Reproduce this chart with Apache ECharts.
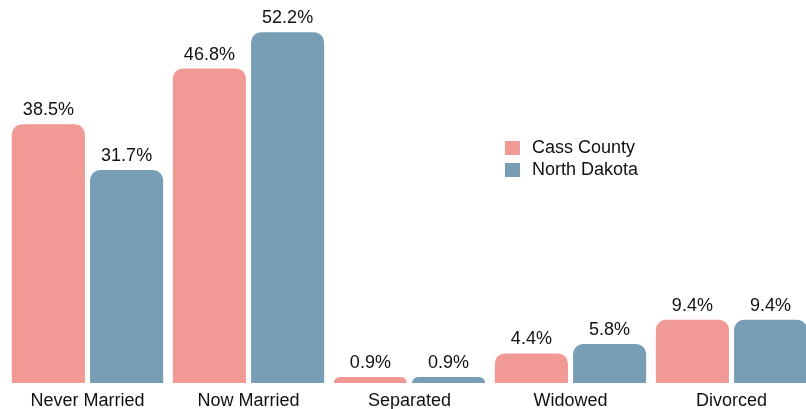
<!DOCTYPE html>
<html>
<head>
<meta charset="utf-8">
<script src="https://cdn.jsdelivr.net/npm/echarts@6/dist/echarts.min.js"></script>
<style>
  html, body { margin: 0; padding: 0; background: #fff; }
  #main { width: 806px; height: 409px; }
</style>
</head>
<body>
<div id="main"></div>
<script>
var categories = ['Never Married', 'Now Married', 'Separated', 'Widowed', 'Divorced'];
var cassCounty = [38.5, 46.8, 0.9, 4.4, 9.4];
var northDakota = [31.7, 52.2, 0.9, 5.8, 9.4];

var font = 'Liberation Sans, Arial, Helvetica, sans-serif';
var textColor = '#111';
var myChart = echarts.init(document.getElementById('main'));

function barSeries(name, color, data) {
  return {
    name: name,
    type: 'bar',
    barGap: '7%',
    barCategoryGap: '6%',
    itemStyle: {
      color: color,
      borderRadius: [10, 10, 0, 0]
    },
    label: {
      show: true,
      position: 'top',
      distance: 5,
      color: textColor,
      fontSize: 18,
      fontFamily: font,
      formatter: function (p) { return p.value.toFixed(1) + '%'; }
    },
    data: data
  };
}

var option = {
  backgroundColor: '#fff',
  animation: false,
  legend: {
    orient: 'vertical',
    left: 505,
    top: 139,
    padding: 0,
    itemGap: 4,
    itemWidth: 15,
    itemHeight: 14,
    icon: 'rect',
    textStyle: { color: textColor, fontSize: 18, fontFamily: font, padding: [0, 0, 0, 7] },
    data: ['Cass County', 'North Dakota']
  },
  grid: { left: 7, width: 805, top: 0, bottom: 26, containLabel: false, outerBoundsMode: 'none' },
  xAxis: {
    type: 'category',
    data: categories,
    axisLine: { show: false },
    axisTick: { show: false },
    axisLabel: { color: textColor, fontSize: 18, fontFamily: font, margin: 9, interval: 0 }
  },
  yAxis: {
    type: 'value',
    min: 0,
    max: 57,
    show: false,
    splitLine: { show: false }
  },
  series: [
    barSeries('Cass County', '#f19995', cassCounty),
    barSeries('North Dakota', '#789eb6', northDakota)
  ]
};
myChart.setOption(option);
</script>
</body>
</html>
